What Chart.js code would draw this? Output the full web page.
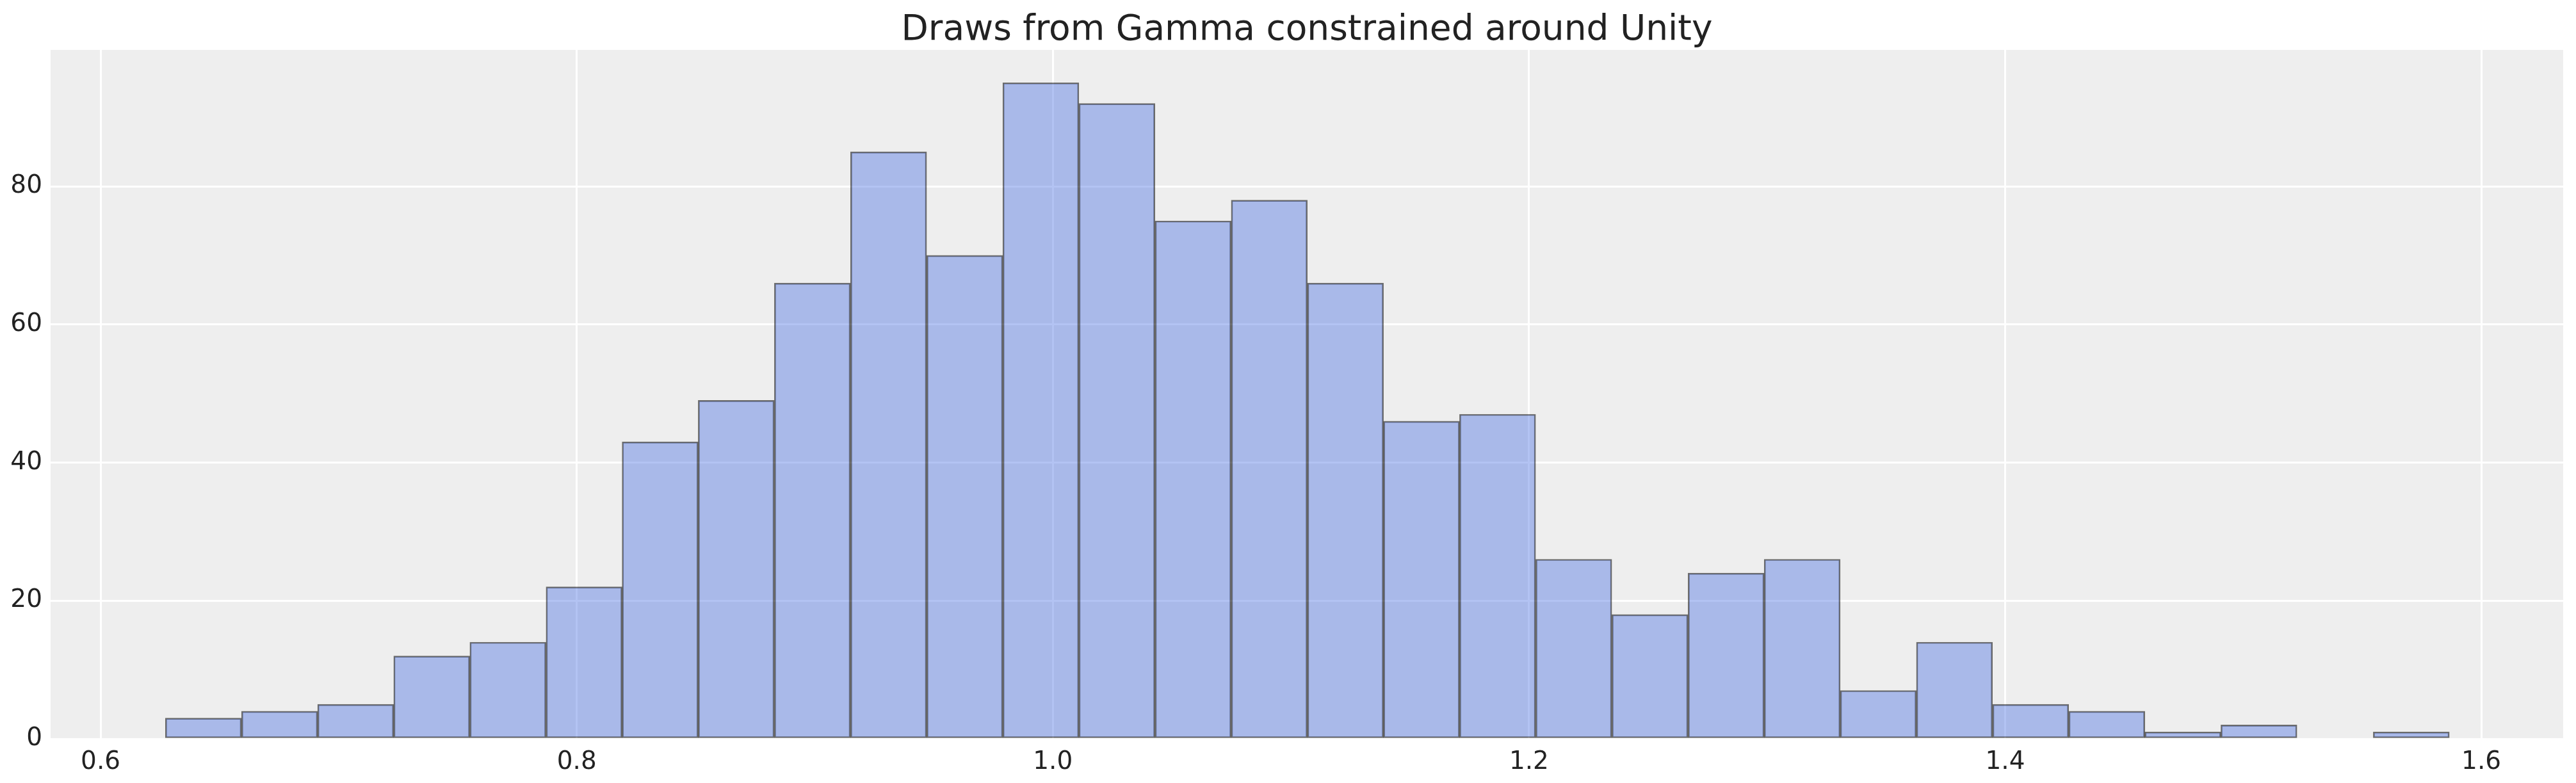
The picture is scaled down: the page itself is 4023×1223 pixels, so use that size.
<!DOCTYPE html>
<html>
<head>
    <meta charset="UTF-8">
    <title>Draws from Gamma constrained around Unity</title>
    <script src="https://cdn.jsdelivr.net/npm/chart.js@4/dist/chart.umd.min.js"></script>
    <style type="text/css">
        body {
            margin: 0;
            background: #fff;
        }

        .wrap {
            position: relative;
            width: 4023px;
            height: 1223px;
        }

        .chart-title {
            position: absolute;
            left: 79px;
            top: 16px;
            width: 3924px;
            text-align: center;
            font-family: "DejaVu Sans", sans-serif;
            font-size: 55px;
            line-height: 55px;
            color: #222;
        }
    </style>
</head>
<body>
    <div class="wrap">
        <div class="chart-title">Draws from Gamma constrained around Unity</div>
        <canvas id="myChart" width="4023" height="1223"></canvas>
    </div>
<script type="text/javascript">
    // histogram bin edges (31) and counts (30)
    let binEdges = [0.6272, 0.6592, 0.6912, 0.7231, 0.7551, 0.7871, 0.8191, 0.8510,
        0.8830, 0.9150, 0.9470, 0.9790, 1.0109, 1.0429, 1.0749, 1.1069, 1.1389,
        1.1708, 1.2028, 1.2348, 1.2668, 1.2988, 1.3307, 1.3627, 1.3947, 1.4267,
        1.4587, 1.4906, 1.5226, 1.5546, 1.5866];
    let counts = [3, 4, 5, 12, 14, 22, 43, 49, 66, 85, 70, 95, 92, 75, 78, 66, 46, 47,
        26, 18, 24, 26, 7, 14, 5, 4, 1, 2, 0, 1];
    let xTicks = [0.6, 0.8, 1.0, 1.2, 1.4, 1.6];
    let yTicks = [0, 20, 40, 60, 80];

    let points = counts.map((c, i) => ({ x: (binEdges[i] + binEdges[i + 1]) / 2, y: c }));

    // grey panel behind the axes
    let panelBg = {
        id: 'panelBg',
        beforeDraw: (chart) => {
            let a = chart.chartArea;
            let ctx = chart.ctx;
            ctx.save();
            ctx.fillStyle = '#eeeeee';
            ctx.fillRect(a.left, a.top, a.right - a.left, a.bottom - a.top);
            ctx.restore();
        }
    };

    let tickFont = { family: 'DejaVu Sans', size: 39 };

    let ctx = document.getElementById('myChart').getContext('2d');
    let myChart = new Chart(ctx, {
        type: 'bar',
        data: {
            datasets: [{
                data: points,
                backgroundColor: 'rgba(65,105,225,0.4)',
                borderColor: 'rgba(0,0,0,0.55)',
                borderWidth: 2,
                borderSkipped: false,
                barPercentage: 1.0,
                categoryPercentage: 1.0
            }]
        },
        options: {
            responsive: false,
            devicePixelRatio: 1,
            animation: false,
            layout: {
                padding: { top: 78, right: 20, left: 0, bottom: 0 }
            },
            plugins: {
                legend: { display: false },
                tooltip: { enabled: false }
            },
            scales: {
                x: {
                    type: 'linear',
                    min: 0.579,
                    max: 1.6344,
                    offset: false,
                    border: { display: false },
                    grid: { color: '#ffffff', lineWidth: 3, drawTicks: false, offset: false },
                    ticks: {
                        font: tickFont,
                        color: '#222',
                        padding: 13,
                        maxRotation: 0,
                        callback: (v) => v.toFixed(1)
                    },
                    afterBuildTicks: (axis) => {
                        axis.ticks = xTicks.map(v => ({ value: v }));
                    },
                    afterFit: (axis) => {
                        axis.height = 69;
                    }
                },
                y: {
                    min: 0,
                    max: 99.75,
                    border: { display: false },
                    grid: { color: '#ffffff', lineWidth: 3, drawTicks: false },
                    ticks: {
                        font: tickFont,
                        color: '#222',
                        padding: 13
                    },
                    afterBuildTicks: (axis) => {
                        axis.ticks = yTicks.map(v => ({ value: v }));
                    },
                    afterFit: (axis) => {
                        axis.width = 79;
                    }
                }
            }
        },
        plugins: [panelBg]
    });
</script>
</body>
</html>
